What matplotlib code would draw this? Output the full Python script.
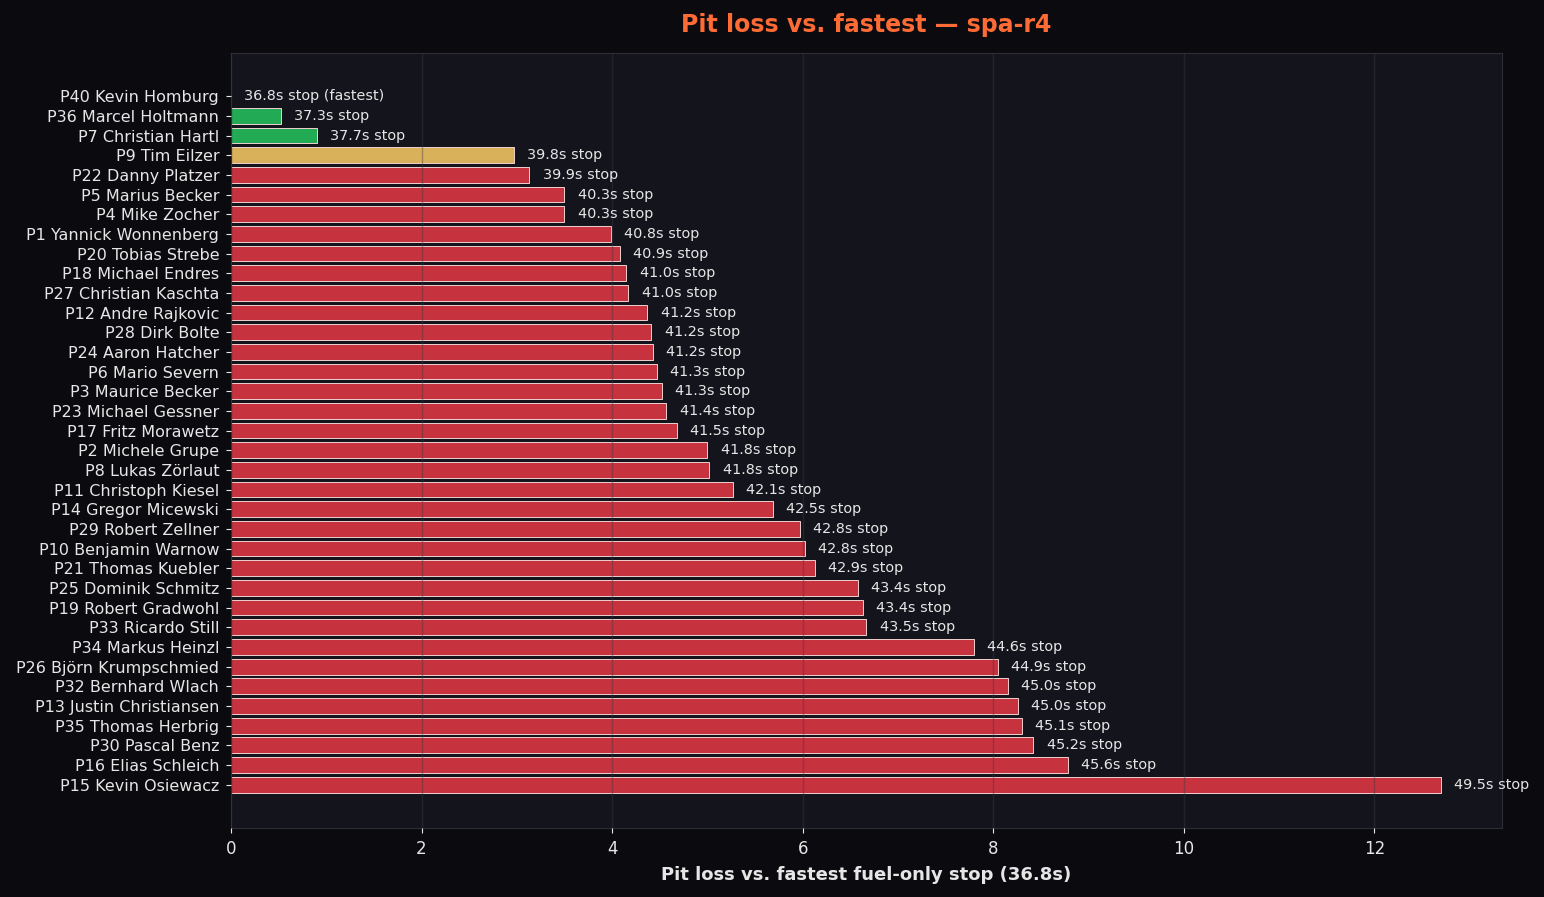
import matplotlib
matplotlib.use("Agg")
from matplotlib import pyplot as plt

drivers = ["P40 Kevin Homburg", "P36 Marcel Holtmann", "P7 Christian Hartl", "P9 Tim Eilzer",
           "P22 Danny Platzer", "P5 Marius Becker", "P4 Mike Zocher", "P1 Yannick Wonnenberg",
           "P20 Tobias Strebe", "P18 Michael Endres", "P27 Christian Kaschta", "P12 Andre Rajkovic",
           "P28 Dirk Bolte", "P24 Aaron Hatcher", "P6 Mario Severn", "P3 Maurice Becker",
           "P23 Michael Gessner", "P17 Fritz Morawetz", "P2 Michele Grupe", "P8 Lukas Zörlaut",
           "P11 Christoph Kiesel", "P14 Gregor Micewski", "P29 Robert Zellner", "P10 Benjamin Warnow",
           "P21 Thomas Kuebler", "P25 Dominik Schmitz", "P19 Robert Gradwohl", "P33 Ricardo Still",
           "P34 Markus Heinzl", "P26 Björn Krumpschmied", "P32 Bernhard Wlach", "P13 Justin Christiansen",
           "P35 Thomas Herbrig", "P30 Pascal Benz", "P16 Elias Schleich", "P15 Kevin Osiewacz"]
loss = [0.0, 0.52, 0.90, 2.97, 3.13, 3.50, 3.50, 3.99, 4.08, 4.15, 4.17, 4.37,
        4.41, 4.43, 4.47, 4.52, 4.57, 4.68, 5.00, 5.02, 5.27, 5.69, 5.97, 6.02,
        6.13, 6.58, 6.63, 6.67, 7.80, 8.05, 8.15, 8.26, 8.30, 8.42, 8.78, 12.70]
stops = [36.8, 37.3, 37.7, 39.8, 39.9, 40.3, 40.3, 40.8, 40.9, 41.0, 41.0, 41.2,
         41.2, 41.2, 41.3, 41.3, 41.4, 41.5, 41.8, 41.8, 42.1, 42.5, 42.8, 42.8,
         42.9, 43.4, 43.4, 43.5, 44.6, 44.9, 45.0, 45.0, 45.1, 45.2, 45.6, 49.5]
fastest = 36.8

fig_bg = "#0b0b0f"
ax_bg = "#13141c"
txt = "#e6e6e6"

def bar_color(v):
    if v < 1.0:
        return "#22aa55"
    elif v < 3.0:
        return "#d9b15b"
    return "#c6323e"

fig, ax = plt.subplots(figsize=(15.44, 8.97), dpi=100)
fig.patch.set_facecolor(fig_bg)
ax.set_facecolor(ax_bg)

ys = list(range(len(drivers)))
ax.barh(ys, loss, height=0.8, color=[bar_color(v) for v in loss],
        edgecolor="#f0d0d0", linewidth=0.7, zorder=1)
ax.grid(axis="x", color="#3a3b45", alpha=0.4, linewidth=1.0, zorder=2)
ax.set_axisbelow(False)

for y, v, s in zip(ys, loss, stops):
    lab = f"{s:.1f}s stop"
    if v == 0:
        lab += " (fastest)"
    ax.text(v + 0.14, y, lab, va="center", ha="left", color=txt, fontsize=10.4, zorder=3)

ax.set_yticks(ys)
ax.set_yticklabels(drivers)
ax.set_ylim(len(drivers) - 1 + 2.2, -2.2)
ax.set_xlim(0, 13.34)
ax.tick_params(colors=txt, labelsize=11.5, pad=5)
ax.tick_params(axis="x", labelsize=12)
for sp in ax.spines.values():
    sp.set_color("#2c2d36")

ax.set_xlabel(f"Pit loss vs. fastest fuel-only stop ({fastest:.1f}s)", color=txt,
              fontsize=13, fontweight="bold", labelpad=6)
ax.set_title("Pit loss vs. fastest — spa-r4", color="#ff6b35", fontsize=17,
             fontweight="bold", pad=15)

plt.subplots_adjust(left=0.1496, right=0.9728, top=0.941, bottom=0.077)
plt.savefig("out.png", facecolor=fig_bg)
